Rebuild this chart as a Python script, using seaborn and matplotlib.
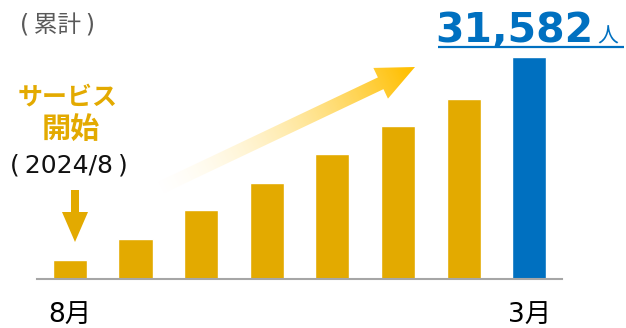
import numpy as np
import pandas as pd
import matplotlib
matplotlib.use("Agg")
import matplotlib.pyplot as plt
from matplotlib.patches import Polygon
import seaborn as sns

# Cumulative users per month since launch (Aug 2024 - Mar 2025)
months = ["8月", "9月", "10月", "11月", "12月", "1月", "2月", "3月"]
users = [2700, 5700, 9800, 13700, 17800, 21800, 25600, 31582]
tick_labels = ["8月", "", "", "", "", "", "", "3月"]

gold = "#E3AA00"
blue = "#0070C0"
bar_colors = [gold] * (len(months) - 1) + [blue]

sns.set_theme(style="white")
plt.rcParams["font.family"] = ["Noto Sans CJK JP", "DejaVu Sans"]
latin_first = ["DejaVu Sans", "Noto Sans CJK JP"]

W, H = 626, 328
fig = plt.figure(figsize=(W / 100, H / 100), dpi=100)

# Main bar axes (pixel layout converted to figure fractions)
ax_left, ax_right, ax_base, ax_top = 37, 562, 279, 20
ax = fig.add_axes([ax_left / W, (H - ax_base) / H,
                   (ax_right - ax_left) / W, (ax_base - ax_top) / H])

df = pd.DataFrame({"month": months, "users": users})
sns.barplot(data=df, x="month", y="users", hue="month",
            palette=bar_colors, width=0.52, legend=False, ax=ax,
            saturation=1)

ax.set_xlim(-0.5, len(months) - 0.5)
ax.set_ylim(0, users[-1] * (ax_base - ax_top) / 222)
for s in ["top", "left", "right"]:
    ax.spines[s].set_visible(False)
ax.spines["bottom"].set_color("#A6A6A6")
ax.spines["bottom"].set_linewidth(1.5)
ax.set_yticks([])
ax.set_xticks(range(len(months)))
ax.set_xticklabels(tick_labels, fontsize=19, color="black", family=latin_first)
ax.tick_params(axis="x", length=0, pad=17)
ax.set_xlabel("")
ax.set_ylabel("")

# Overlay axes in pixel coordinates for annotations
ov = fig.add_axes([0, 0, 1, 1], zorder=5)
ov.set_xlim(0, W)
ov.set_ylim(H, 0)
ov.axis("off")
ov.patch.set_alpha(0)

# Gradient trend arrow
tail = np.array([160.0, 188.0])
tip = np.array([415.0, 67.0])
d = tip - tail
L = np.hypot(*d)
u = d / L
n = np.array([-u[1], u[0]])
shaft_hw, head_hw, head_len = 6.5, 17.0, 38.0
base = tip - u * head_len
pts = [tail + n * shaft_hw, base + n * shaft_hw, base + n * head_hw, tip,
       base - n * head_hw, base - n * shaft_hw, tail - n * shaft_hw]
poly = Polygon(pts, closed=True, facecolor="none", edgecolor="none")
ov.add_patch(poly)

x0, x1 = 140, 430
y0, y1 = 50, 210
gx, gy = np.meshgrid(np.linspace(x0, x1, 400), np.linspace(y0, y1, 220))
t = ((gx - tail[0]) * u[0] + (gy - tail[1]) * u[1]) / L
t = np.clip(t, 0, 1)
img = np.zeros(gx.shape + (4,))
img[..., 0] = 1.0
img[..., 1] = 0.97 - 0.22 * t
img[..., 2] = 0.85 - 0.85 * t
img[..., 3] = np.clip(t * 1.05, 0, 1) ** 0.9
im = ov.imshow(img, extent=(x0, x1, y1, y0), interpolation="bilinear",
               zorder=2, aspect="auto")
im.set_clip_path(poly)

# Launch marker: down arrow above the first bar
down = [(71, 190), (79, 190), (79, 212), (88, 212), (75, 242), (62, 212), (71, 212)]
ov.add_patch(Polygon(down, closed=True, facecolor=gold, edgecolor="none", zorder=3))

ov.text(57, 25, "(\u2009累計\u2009)", fontsize=17, color="#595959", ha="center",
        va="center", family=latin_first)
ov.text(68, 97, "サービス", fontsize=18, fontweight="bold", color=gold,
        ha="center", va="center")
ov.text(71, 129, "開始", fontsize=21, fontweight="bold", color=gold,
        ha="center", va="center")
ov.text(69, 165, "(\u20092024/8\u2009)", fontsize=18, color="#111111",
        ha="center", va="center", family=latin_first)

# Latest total label with underline
ov.text(593, 42, f"{users[-1]:,}", fontsize=29.5, fontweight="bold",
        color=blue, ha="right", va="baseline", family=latin_first)
ov.text(597, 43, "人", fontsize=15, color=blue, ha="left", va="baseline")
ov.plot([438, 624], [47, 47], color=blue, lw=1.6, solid_capstyle="butt")

fig.savefig("out.png", dpi=100)
